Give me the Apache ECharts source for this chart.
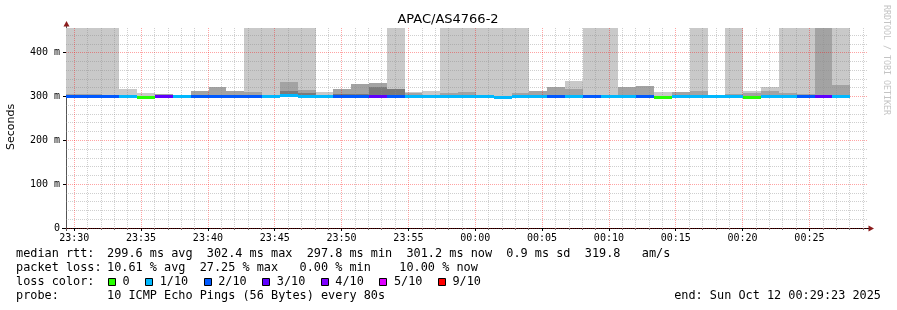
<!DOCTYPE html>
<html><head><meta charset="utf-8">
<script src="https://cdn.jsdelivr.net/npm/echarts@6/dist/echarts.min.js"></script>
<style>html,body{margin:0;padding:0;background:#fff}#c{width:897px;height:310px}</style>
</head><body><div id="c"></div>
<script>
// ---------- data ----------
const chartTitle = 'APAC/AS4766-2';
const yAxisName = 'Seconds';
const watermark = 'RRDTOOL / TOBI OETIKER';
const rangeStart = '23:29:23';
const rangeSeconds = 3600;
const stepSeconds = 80;
const xTickLabels = ['23:30','23:35','23:40','23:45','23:50','23:55','00:00','00:05','00:10','00:15','00:20','00:25'];
const yTickValues = [0,100,200,300,400];
const yMaxValue = 456;
// per 80 s step (44 steps)
const medianMs = [300,300,300,300.5,299.5,300.5,301,300,300,300,300,300,302.4,300,300.5,300,300,300,300,300.5,300.5,300.5,300.5,300,298.5,300,300.5,301,300.5,300,300.5,300.5,300,299.5,300.5,300.5,300.5,300.5,299.5,300.5,300.5,300,302,301.2];
const lossCount = [2,2,2,1,0,3,1,2,2,2,2,1,1,1,1,2,2,3,2,1,1,1,1,1,1,1,1,2,1,2,1,1,2,0,1,1,1,1,0,1,1,2,3,1];
const smokeLowMs = [299,299,299,299,299,299,299,299,299,299,299,297,299,299,299,299,299,299,299,299,299,299,299,299,296.5,299,299,299,299,299,299,299,299,299,299,299,299,299,299,299,299,299,299,299];
const smokeLightMs = [500,500,500,317,308,0,0,0,0,0,500,500,500,500,310,0,0,0,500,311,312,500,500,500,500,500,0,0,335,500,500,0,0,309,0,500,0,500,312,321,500,500,0,500];
const smokeMidMs = [305,305,304,303,0,306,0,312,321,312,310,0,333,315,0,317,328,331,0,308,0,308,311,304,0,308,313,321,317,303,0,321,324,0,310,312,0,306,308,312,308,306,500,327];
const smokeDarkMs = [0,0,0,0,0,0,0,0,0,0,0,0,313,308,0,306,306,321,317,0,0,0,0,0,0,0,0,0,0,0,0,0,0,0,0,0,0,0,0,0,0,0,0,0];
const lossLevels = [0,1,2,3,4,5,9];
const lossLabels = ['0','1/10','2/10','3/10','4/10','5/10','9/10'];
const lossColors = ['#26ff00','#00b8ff','#0059ff','#5e00ff','#7e00ff','#dd00ff','#ff0000'];
const statLabels = ['median rtt:','packet loss:','loss color:','probe:'];
const statRtt = '299.6 ms avg  302.4 ms max  297.8 ms min  301.2 ms now  0.9 ms sd  319.8   am/s';
const statLoss = '10.61 % avg  27.25 % max   0.00 % min    10.00 % now';
const probeText = '10 ICMP Echo Pings (56 Bytes) every 80s';
const endText = 'end: Sun Oct 12 00:29:23 2025';

// ---------- helpers ----------
function toSec(s){const p=s.split(':').map(Number);return p[0]*3600+p[1]*60+(p[2]||0);}
const startSec = toSec(rangeStart);
function offsetOf(lbl){return (toSec(lbl)-startSec+86400)%86400;}
const majorX = xTickLabels.map(offsetOf);
const minorX = [];
for(let v=majorX[0]%60; v<rangeSeconds; v+=60){ if(!majorX.includes(v)) minorX.push(v); }
const minorY = [];
for(let v=20; v<yMaxValue; v+=20){ if(v%100!==0) minorY.push(v); }
function lossColor(n){let c=lossColors[0];lossLevels.forEach((l,i)=>{if(n>=l)c=lossColors[i];});return c;}

const smokeData = medianMs.map((m,i)=>[i*stepSeconds,(i+1)*stepSeconds,smokeLowMs[i],smokeLightMs[i],smokeMidMs[i],smokeDarkMs[i]]);
const medianData = medianMs.map((m,i)=>[i*stepSeconds,(i+1)*stepSeconds,m,lossCount[i]]);

const mono = '"DejaVu Sans Mono", monospace';
const chart = echarts.init(document.getElementById('c'), null, {renderer:'canvas', devicePixelRatio:1});

function smokeRender(params, api){
  const x0=api.value(0), x1=api.value(1), lo=api.value(2);
  const layers=[[api.value(3),'#c9c9c9'],[api.value(4),'#a3a3a3'],[api.value(5),'#7a7a7a']];
  const children=[];
  layers.forEach(([top,color])=>{
    if(!top||top<=lo) return;
    const p0=api.coord([x0,lo]); const p1=api.coord([x1,Math.min(top,yMaxValue)]);
    const xa=Math.round(p0[0]), xb=Math.round(p1[0]);
    const ya=Math.round(p1[1]), yb=Math.round(p0[1]);
    children.push({type:'rect',shape:{x:xa,y:ya,width:xb-xa,height:Math.max(1,yb-ya)},style:{fill:color}});
  });
  return {type:'group',children};
}
function medianRender(params, api){
  const x0=api.value(0), x1=api.value(1), m=api.value(2), n=api.value(3);
  const p0=api.coord([x0,m]); const p1=api.coord([x1,m]);
  const xa=Math.round(p0[0]), xb=Math.round(p1[0]);
  return {type:'rect',shape:{x:xa,y:Math.round(p0[1])-1,width:xb-xa,height:3},style:{fill:lossColor(n)}};
}

const graphics = [];
graphics.push({type:'text',x:448,y:19.5,style:{text:chartTitle,font:'13px "DejaVu Sans"',fill:'#000',align:'center',verticalAlign:'middle'}});
graphics.push({type:'text',x:11,y:127,rotation:Math.PI/2,style:{text:yAxisName,font:'11px "DejaVu Sans"',fill:'#000',align:'center',verticalAlign:'middle'}});
graphics.push({type:'text',x:886.5,y:60,rotation:-Math.PI/2,style:{text:watermark,font:'8.3px '+mono,fill:'#c4c4c4',align:'center',verticalAlign:'middle'}});
// axis lines and arrows
graphics.push({type:'line',shape:{x1:62,y1:228.5,x2:869,y2:228.5},style:{stroke:'#000',lineWidth:1}});
graphics.push({type:'line',shape:{x1:66.5,y1:25,x2:66.5,y2:231},style:{stroke:'#555',lineWidth:1}});
graphics.push({type:'polygon',shape:{points:[[66.5,21],[63.5,26.5],[69.5,26.5]]},style:{fill:'#8b1c1c'}});
graphics.push({type:'polygon',shape:{points:[[874,228.5],[868.5,225.5],[868.5,231.5]]},style:{fill:'#8b1c1c'}});
// legend text
const lineY=[254.2,268.2,282.4,296.4];
const legendFont='11.85px '+mono;
statLabels.forEach((t,i)=>graphics.push({type:'text',x:16,y:lineY[i],style:{text:t,font:legendFont,fill:'#000',align:'left',verticalAlign:'middle'}}));
graphics.push({type:'text',x:107,y:lineY[0],style:{text:statRtt,font:legendFont,fill:'#000',align:'left',verticalAlign:'middle'}});
graphics.push({type:'text',x:107,y:lineY[1],style:{text:statLoss,font:legendFont,fill:'#000',align:'left',verticalAlign:'middle'}});
graphics.push({type:'text',x:107,y:lineY[3],style:{text:probeText,font:legendFont,fill:'#000',align:'left',verticalAlign:'middle'}});
graphics.push({type:'text',x:881,y:lineY[3],style:{text:endText,font:legendFont,fill:'#000',align:'right',verticalAlign:'middle'}});
let tx=122.5;
lossLabels.forEach((lbl,i)=>{
  graphics.push({type:'rect',shape:{x:Math.round(tx-14.5)+0.5,y:278.5,width:7,height:7},style:{fill:lossColors[i],stroke:'#000',lineWidth:1}});
  graphics.push({type:'text',x:tx,y:lineY[2],style:{text:lbl,font:legendFont,fill:'#000',align:'left',verticalAlign:'middle'}});
  tx += lbl.length*7.14 + 30;
});

const axisFont = {fontFamily:mono,fontSize:10,color:'#000'};
const majorGrid = {show:true,lineStyle:{color:'rgba(255,0,0,0.36)',width:1,type:[1,1]}};
const minorGrid = {show:true,lineStyle:{color:'rgba(140,140,140,0.42)',width:1,type:[1,1]}};
chart.setOption({
  animation:false,
  backgroundColor:'#fff',
  grid:{left:66,top:28,width:802,height:200,containLabel:false},
  xAxis:[
    {type:'value',min:0,max:rangeSeconds,position:'bottom',z:10,
     axisLine:{show:false},
     axisTick:{show:true,customValues:majorX,length:3,lineStyle:{color:'#000'}},
     axisLabel:Object.assign({show:true,customValues:majorX,margin:5,formatter:v=>xTickLabels[majorX.indexOf(v)]||''},axisFont),
     splitLine:majorGrid},
    {type:'value',min:0,max:rangeSeconds,position:'bottom',z:9,
     axisLine:{show:false},
     axisTick:{show:true,customValues:minorX,length:2,lineStyle:{color:'#777'}},
     axisLabel:{show:false},
     splitLine:minorGrid}
  ],
  yAxis:[
    {type:'value',min:0,max:yMaxValue,position:'left',z:10,
     axisLine:{show:false},
     axisTick:{show:true,customValues:yTickValues,length:3,lineStyle:{color:'#000'}},
     axisLabel:Object.assign({show:true,customValues:yTickValues,margin:6,formatter:v=>v===0?'0':v+' m'},axisFont),
     splitLine:majorGrid},
    {type:'value',min:0,max:yMaxValue,position:'left',z:9,
     axisLine:{show:false},
     axisTick:{show:false,customValues:minorY},
     axisLabel:{show:false},
     splitLine:minorGrid}
  ],
  series:[
    {type:'custom',name:'smoke',xAxisIndex:0,yAxisIndex:0,z:1,renderItem:smokeRender,data:smokeData,silent:true},
    {type:'custom',name:'median',xAxisIndex:0,yAxisIndex:0,z:11,renderItem:medianRender,data:medianData,silent:true}
  ],
  graphic:graphics
});
</script>
</body></html>
